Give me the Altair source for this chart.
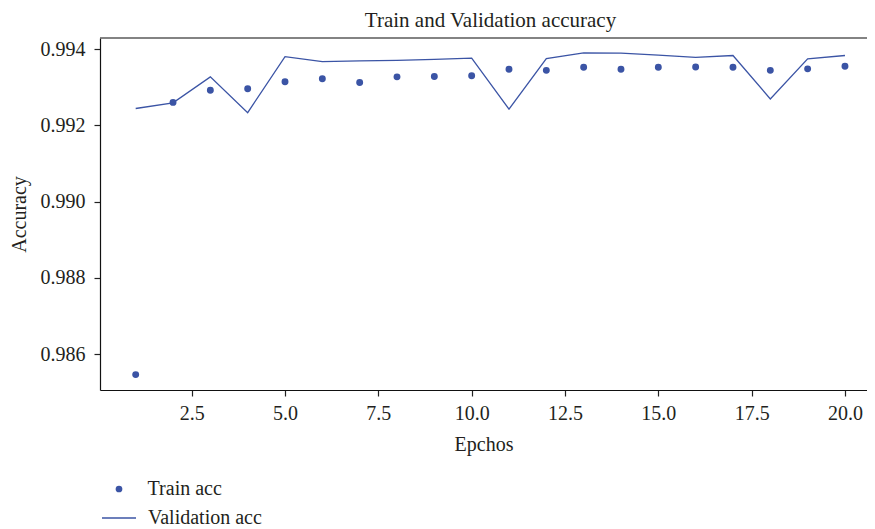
import altair as alt
import pandas as pd

# ---- data ----
epochs = list(range(1, 21))
train_acc = [0.98546, 0.99260, 0.99292, 0.99296, 0.99314, 0.99322, 0.99312, 0.99327, 0.99328, 0.99330,
             0.99347, 0.99344, 0.99352, 0.99347, 0.99352, 0.99353, 0.99352, 0.99344, 0.99348, 0.99355]
val_acc = [0.99244, 0.99259, 0.99327, 0.99233, 0.99380, 0.99367, 0.99369, 0.99370, 0.99373, 0.99376,
           0.99242, 0.99375, 0.99390, 0.99389, 0.99384, 0.99378, 0.99383, 0.99269, 0.99374, 0.99383]
x_ticks = [2.5, 5.0, 7.5, 10.0, 12.5, 15.0, 17.5, 20.0]
y_ticks = [0.986, 0.988, 0.990, 0.992, 0.994]
series_names = ["Train acc", "Validation acc"]

BLUE = "#3b54a5"
TEXT = "#231f20"
FONT = "Liberation Serif"
FS = 20
W, H = 767, 352

train_df = pd.DataFrame({"epoch": epochs, "acc": train_acc, "series": series_names[0]})
val_df = pd.DataFrame({"epoch": epochs, "acc": val_acc, "series": series_names[1]})

x_enc = alt.X(
    "epoch:Q",
    scale=alt.Scale(domain=[0.044, 20.59], nice=False, zero=False),
    axis=alt.Axis(values=x_ticks, format=".1f", title="Epchos", grid=False,
                  tickSize=6, labelPadding=7, titlePadding=11, labelFlush=False),
)
y_enc = alt.Y(
    "acc:Q",
    scale=alt.Scale(domain=[0.985056, 0.994289], nice=False, zero=False),
    axis=alt.Axis(values=y_ticks, format=".3f", title="Accuracy", grid=False,
                  tickSize=6, labelPadding=9, titlePadding=11, labelFlush=False),
)

line = alt.Chart(val_df).mark_line(strokeWidth=1.3).encode(
    x=x_enc, y=y_enc,
    stroke=alt.Stroke(
        "series:N",
        scale=alt.Scale(domain=[series_names[1]], range=[BLUE]),
        legend=alt.Legend(title=None, orient="none", legendX=1, legendY=462,
                          symbolType="stroke", symbolSize=1156, symbolStrokeWidth=1.3,
                          labelOffset=11, padding=0),
    ),
)

points = alt.Chart(train_df).mark_circle(size=48, opacity=1).encode(
    x=x_enc, y=y_enc,
    fill=alt.Fill(
        "series:N",
        scale=alt.Scale(domain=[series_names[0]], range=[BLUE]),
        legend=alt.Legend(title=None, orient="none", legendX=9.0, legendY=441,
                          symbolType="circle", symbolSize=45, symbolOpacity=1,
                          labelOffset=18.6, padding=0),
    ),
)

top_border = alt.Chart(pd.DataFrame({"k": [0]})).mark_rule(color="#5a5a5a", strokeWidth=1.6).encode(
    x=alt.value(0), x2=alt.value(W), y=alt.value(0)
)

chart = alt.layer(top_border, line, points).properties(
    width=W, height=H,
    title=alt.Title("Train and Validation accuracy", font=FONT, fontSize=21, fontWeight="normal",
                    color=TEXT, offset=6, dx=7, anchor="middle"),
    autosize="none",
    padding={"left": 92, "top": 30, "right": 0, "bottom": 145},
    background="white",
).configure_view(stroke=None).configure_axis(
    labelFont=FONT, titleFont=FONT, labelFontSize=FS, titleFontSize=FS,
    labelColor=TEXT, titleColor=TEXT, titleFontWeight="normal",
    domainColor="#111111", domainWidth=1.2, tickColor="#222222", tickWidth=1.2,
).configure_legend(
    labelFont=FONT, labelFontSize=FS, labelColor=TEXT,
)

chart.save("out.html", embed_options={"renderer": "svg", "actions": False})
